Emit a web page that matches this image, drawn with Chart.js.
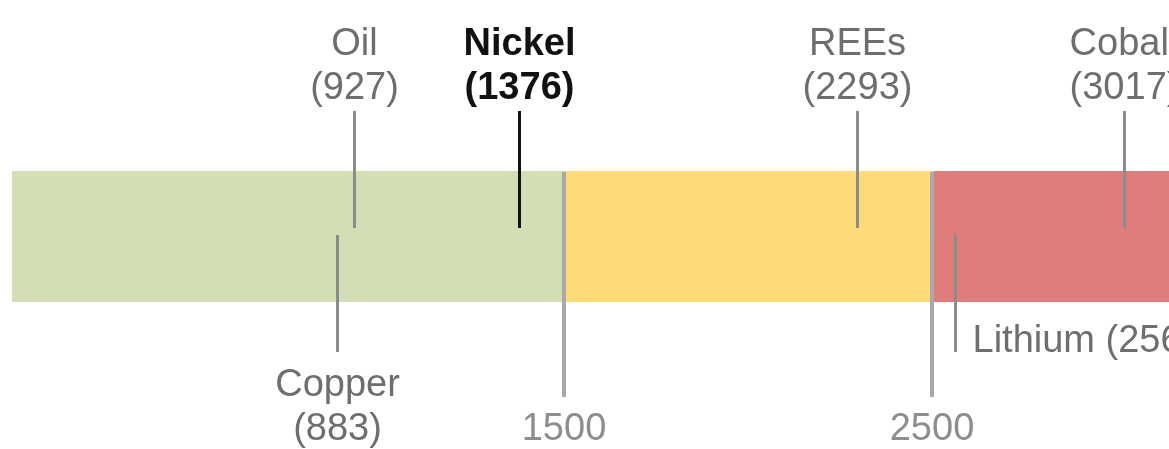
<!DOCTYPE html>
<html>
<head>
<meta charset="utf-8">
<script src="https://cdn.jsdelivr.net/npm/chart.js@4"></script>
<style>
  body { margin: 0; background: #fff; }
  #wrap { position: relative; width: 1169px; height: 449px; }
</style>
</head>
<body>
<div id="wrap"><canvas id="bandChart"></canvas></div>
<script>
// zones of the band
const zoneStarts = [0, 1500, 2500];
const zoneEnds = [1500, 2500, 3140];
const zoneColors = ["#d2dfb5", "#fedb76", "#df7c7c"];

// threshold ticks under the band
const tickValues = [1500, 2500];

// commodities
const markerNames = ["Oil", "Nickel", "REEs", "Cobalt", "Copper", "Lithium"];
const markerValues = [927, 1376, 2293, 3017, 883, 2560];
const markerSides = ["top", "top", "top", "top", "bottom", "right"];
const highlighted = "Nickel";

const FONT = "38px 'Liberation Sans', Arial, sans-serif";
const FONT_BOLD = "bold 38px 'Liberation Sans', Arial, sans-serif";

// draws the threshold lines and the commodity markers
const markerPlugin = {
    id: "markers",
    afterDraw(chart) {
        const ctx = chart.ctx;
        const x = chart.scales.x;
        const area = chart.chartArea;
        ctx.save();

        // threshold lines + labels
        tickValues.forEach((v) => {
            const px = Math.round(x.getPixelForValue(v)) - 1;
            ctx.strokeStyle = "#a9a9a9";
            ctx.lineWidth = 4;
            ctx.beginPath();
            ctx.moveTo(px, area.top + 1);
            ctx.lineTo(px, 397);
            ctx.stroke();
            ctx.fillStyle = "#8e8e8e";
            ctx.font = FONT;
            ctx.textAlign = "center";
            ctx.textBaseline = "alphabetic";
            ctx.fillText(String(v), px, 440);
        });

        // markers
        markerNames.forEach((name, i) => {
            const v = markerValues[i];
            const px = Math.round(x.getPixelForValue(v)) + 0.5;
            const bold = name === highlighted;
            ctx.strokeStyle = bold ? "#111" : "#8c8c8c";
            ctx.fillStyle = bold ? "#111" : "#6e6e6e";
            ctx.font = bold ? FONT_BOLD : FONT;
            ctx.lineWidth = 3;
            ctx.textBaseline = "alphabetic";
            ctx.beginPath();
            if (markerSides[i] === "top") {
                ctx.moveTo(px, 111);
                ctx.lineTo(px, 228);
                ctx.stroke();
                ctx.textAlign = "center";
                ctx.fillText(name, px, 55);
                ctx.fillText("(" + v + ")", px, 99);
            } else if (markerSides[i] === "bottom") {
                ctx.moveTo(px, 235);
                ctx.lineTo(px, 352);
                ctx.stroke();
                ctx.textAlign = "center";
                ctx.fillText(name, px, 396);
                ctx.fillText("(" + v + ")", px, 440);
            } else {
                ctx.moveTo(px, 235);
                ctx.lineTo(px, 352);
                ctx.stroke();
                ctx.textAlign = "left";
                ctx.fillText(name + " (" + v + ")", px + 17, 352);
            }
        });
        ctx.restore();
    }
};

const datasets = zoneStarts.map((s, i) => ({
    label: "zone" + i,
    data: [[s, zoneEnds[i]]],
    backgroundColor: zoneColors[i],
    borderWidth: 0,
    grouped: false,
    barPercentage: 1,
    categoryPercentage: 1
}));

new Chart(document.getElementById("bandChart").getContext("2d"), {
    type: "bar",
    data: { labels: ["band"], datasets: datasets },
    options: {
        indexAxis: "y",
        responsive: true,
        maintainAspectRatio: false,
        animation: false,
        layout: { padding: { left: 12, right: 0, top: 171, bottom: 147 } },
        plugins: {
            legend: { display: false },
            tooltip: { enabled: false },
            title: { display: false }
        },
        scales: {
            x: { type: "linear", min: 0, max: 3140, display: false },
            y: { display: false }
        }
    },
    plugins: [markerPlugin]
});
</script>
</body>
</html>
